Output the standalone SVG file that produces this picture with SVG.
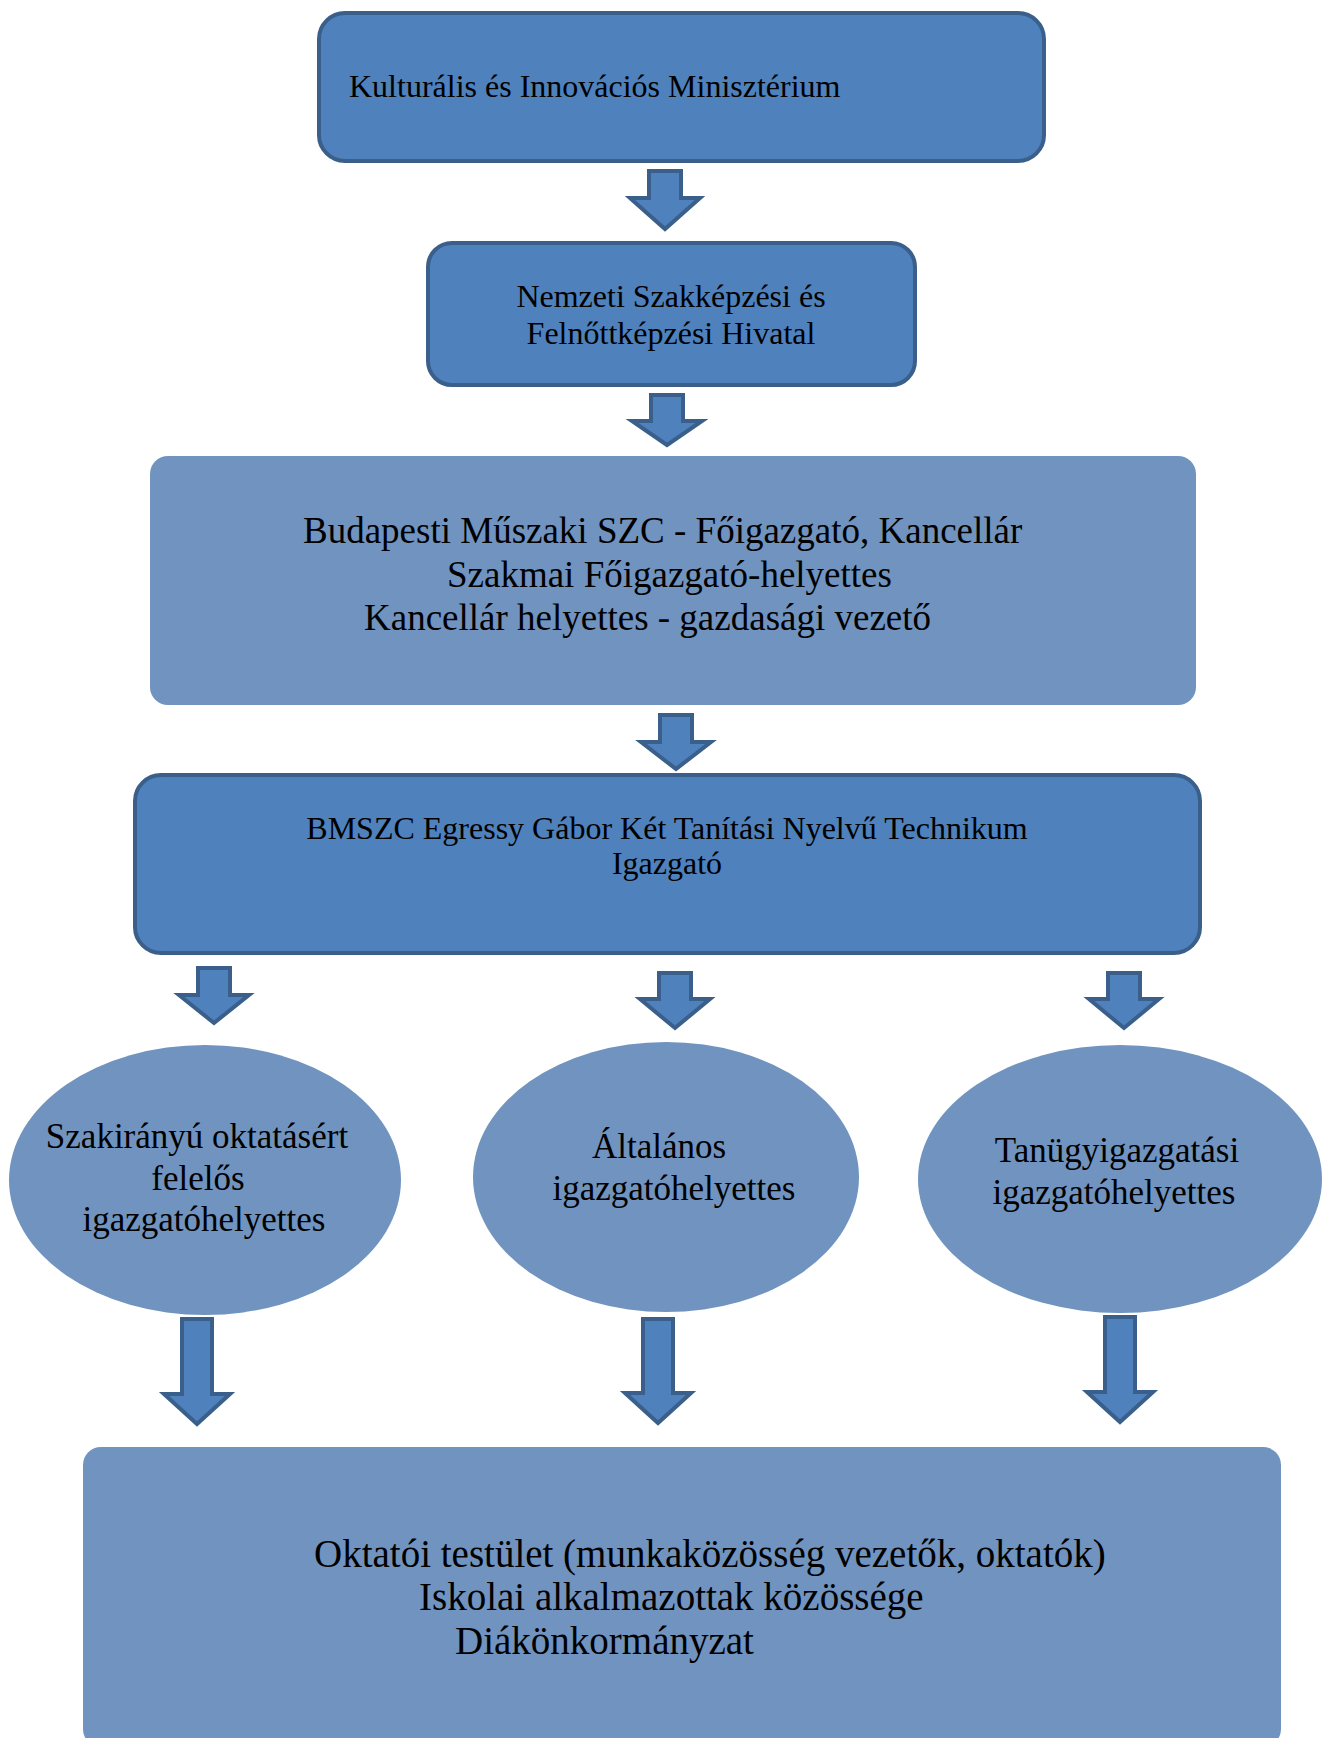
<svg xmlns="http://www.w3.org/2000/svg" width="1324" height="1738" viewBox="0 0 1324 1738">
<style>
.dk{fill:#4F81BD;stroke:#3A5F8B;stroke-width:4}
.lt{fill:#7093BF;stroke:none}
.ar{fill:#4F81BD;stroke:#3A5F8B;stroke-width:4;stroke-linejoin:miter}
text{font-family:"Liberation Serif","Times New Roman",serif;fill:#000}
.f32{font-size:32px}
.f35{font-size:35px}
.f37{font-size:37px}
.f39{font-size:39px}
.m{text-anchor:middle}
</style>
<rect width="1324" height="1738" fill="#fff"/>
<g id="connectors">
<polygon class="ar" points="649,171 681,171 681,198 700,198 665,229 630,198 649,198"/>
<polygon class="ar" points="651,395 683,395 683,421 702,421 667,445 632,421 651,421"/>
<polygon class="ar" points="660,715 692,715 692,742 711,742 676,769 641,742 660,742"/>
<polygon class="ar" points="198,968 230,968 230,995 249,995 214,1023 179,995 198,995"/>
<polygon class="ar" points="659,973 691,973 691,999 710,999 675,1028 640,999 659,999"/>
<polygon class="ar" points="1108,973 1140,973 1140,999 1159,999 1124,1028 1089,999 1108,999"/>
<polygon class="ar" points="182,1319 212,1319 212,1394 230,1394 197,1424 164,1394 182,1394"/>
<polygon class="ar" points="643,1319 673,1319 673,1393 691,1393 658,1423 625,1393 643,1393"/>
<polygon class="ar" points="1105,1317 1135,1317 1135,1392 1153,1392 1120,1422 1087,1392 1105,1392"/>
</g>
<g id="ministry">
<rect class="dk" x="319" y="13" width="725" height="148" rx="26"/>
<text class="f32" x="349" y="97">Kulturális és Innovációs Minisztérium</text>
</g>
<g id="nszfh">
<rect class="dk" x="428" y="243" width="487" height="142" rx="24"/>
<text class="f32 m" x="671" y="307">Nemzeti Szakképzési és</text>
<text class="f32 m" x="671" y="344">Felnőttképzési Hivatal</text>
</g>
<g id="bmszc">
<rect class="lt" x="150" y="456" width="1046" height="249" rx="18"/>
<text class="f37" x="303" y="543">Budapesti Műszaki SZC - Főigazgató, Kancellár</text>
<text class="f37" x="447" y="587">Szakmai Főigazgató-helyettes</text>
<text class="f37" x="364" y="630">Kancellár helyettes - gazdasági vezető</text>
</g>
<g id="school">
<rect class="dk" x="135" y="775" width="1065" height="178" rx="26"/>
<text class="f32 m" x="667" y="839">BMSZC Egressy Gábor Két Tanítási Nyelvű Technikum</text>
<text class="f32 m" x="667" y="874">Igazgató</text>
</g>
<g id="deputy-vocational">
<ellipse class="lt" cx="205" cy="1180" rx="196" ry="135"/>
<text class="f35 m" x="197" y="1148">Szakirányú oktatásért</text>
<text class="f35 m" x="198" y="1190">felelős</text>
<text class="f35 m" x="204" y="1231">igazgatóhelyettes</text>
</g>
<g id="deputy-general">
<ellipse class="lt" cx="666" cy="1177" rx="193" ry="135"/>
<text class="f35 m" x="659" y="1158">Általános</text>
<text class="f35 m" x="674" y="1200">igazgatóhelyettes</text>
</g>
<g id="deputy-admin">
<ellipse class="lt" cx="1120" cy="1179" rx="202" ry="134"/>
<text class="f35 m" x="1117" y="1162">Tanügyigazgatási</text>
<text class="f35 m" x="1114" y="1204">igazgatóhelyettes</text>
</g>
<g id="staff">
<rect class="lt" x="83" y="1447" width="1198" height="300" rx="18"/>
<text class="f39" x="314" y="1567">Oktatói testület (munkaközösség vezetők, oktatók)</text>
<text class="f39" x="419" y="1610">Iskolai alkalmazottak közössége</text>
<text class="f39" x="455" y="1654">Diákönkormányzat</text>
</g>
</svg>
